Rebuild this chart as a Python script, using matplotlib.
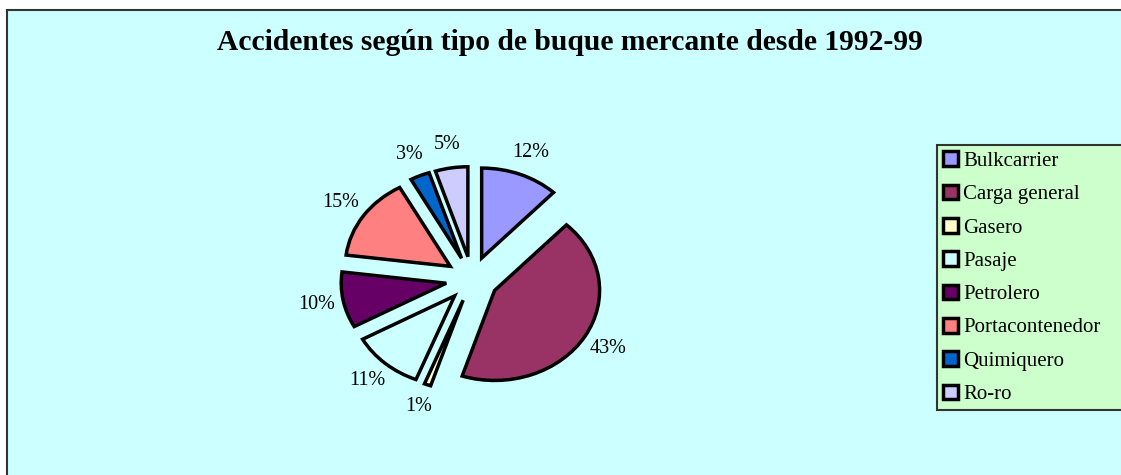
import matplotlib
matplotlib.use('Agg')
import matplotlib.pyplot as plt
from matplotlib.patches import Rectangle

plt.rcParams['font.family'] = ['Liberation Serif', 'DejaVu Serif']

# data (percent of accidents)
tipos = ['Bulkcarrier', 'Carga general', 'Gasero', 'Pasaje', 'Petrolero',
         'Portacontenedor', 'Quimiquero', 'Ro-ro']
porcentajes = [12, 43, 1, 11, 10, 15, 3, 5]
colores = ['#9999FF', '#993366', '#FFFFCC', '#CCFFFF', '#660066',
           '#FF8080', '#0066CC', '#CCCCFF']

W, H = 1121, 475
fig = plt.figure(figsize=(W / 100, H / 100), dpi=100)
fig.patch.set_facecolor('white')

# chart area frame (runs off the right and bottom edge)
fig.patches.append(Rectangle((7 / W, -0.05), 1.1, 1 - 10 / H + 0.05,
                             transform=fig.transFigure, facecolor='#CCFFFF',
                             edgecolor='#333333', linewidth=1.5, zorder=-5))

fig.text(570 / W, 1 - 43 / H, 'Accidentes según tipo de buque mercante desde 1992-99',
         ha='center', va='center', fontsize=21.3, fontweight='bold')

# pie axes: slightly wider than tall, like the original
cx, cy = 472, H - 279
rx, ry = 105, 90
ax = fig.add_axes([(cx - 2 * rx) / W, (cy - 2 * ry) / H, 4 * rx / W, 4 * ry / H])
ax.patch.set_visible(False)
wedges, _, pcts = ax.pie(porcentajes, colors=colores, startangle=90, counterclock=False,
                         explode=[0.25] * len(porcentajes), autopct='%1.0f%%',
                         pctdistance=1.26,
                         wedgeprops=dict(edgecolor='black', linewidth=2.5),
                         textprops=dict(fontsize=14.5))
ax.set_aspect('auto')
ax.set_xlim(-2, 2)
ax.set_ylim(-2, 2)
ax.axis('off')

leg = fig.legend(wedges, tipos, loc='upper left', mode='expand',
                 bbox_to_anchor=(937 / W, 1 - 411 / H, 200 / W, 266 / H),
                 borderaxespad=0, fancybox=False, framealpha=1, fontsize=15,
                 handlelength=0.7, handleheight=0.7, handletextpad=0.25,
                 labelspacing=0.66, borderpad=0.3)
leg.get_frame().set_facecolor('#CCFFCC')
leg.get_frame().set_edgecolor('#333333')
leg.get_frame().set_linewidth(1.5)

fig.savefig('out.png', dpi=100)
